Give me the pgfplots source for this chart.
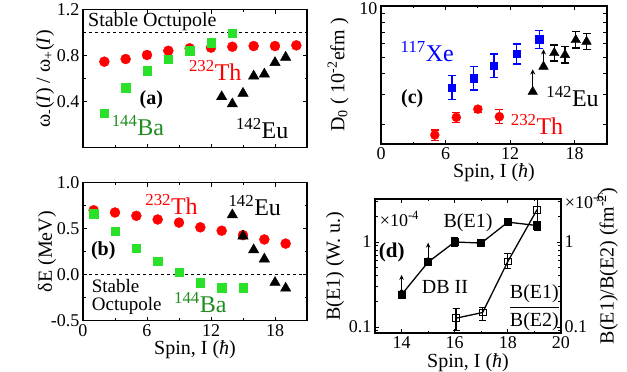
\documentclass[border=0pt]{standalone}
\usepackage{fontspec}
\setmainfont{Liberation Serif}
\usepackage{pgfplots}
\pgfplotsset{compat=1.18}
\usetikzlibrary{arrows.meta}
\definecolor{myred}{RGB}{255,0,0}
\definecolor{mygreen}{RGB}{40,225,40}
\definecolor{txtgreen}{RGB}{30,140,30}
\definecolor{myblue}{RGB}{0,0,255}
\newcommand{\fs}[1]{\fontsize{#1}{#1}\selectfont}
\pgfplotsset{
  every axis/.append style={
    scale only axis,
    axis line style={line width=1.5pt},
    every tick/.style={line width=0.9pt, black},
    major tick length=4pt, minor tick length=2.5pt,
    tick align=inside,
    /pgf/number format/assume math mode=true,
    tick label style={font=\fs{18}},
    label style={font=\fs{20}},
    clip=false,
  },
  thmark/.style={only marks, mark=*, mark size=5pt, color=myred},
  bamark/.style={only marks, mark=square*, mark size=4.2pt, color=mygreen},
  eumark/.style={only marks, mark=triangle*, mark size=6pt, color=black},
}
\begin{document}
\begin{tikzpicture}
\useasboundingbox (0,0) rectangle (627pt,372pt);
% ---------------- (a)
\begin{axis}[at={(83pt,224.3pt)}, anchor=south west, width=224pt, height=138pt,
  xmin=0, xmax=21, ymin=0, ymax=1.2,
  xtick={0,6,12,18}, xticklabels={}, minor x tick num=1,
  ytick={0.4,0.8,1.2}, yticklabels={0.4,0.8,1.2}, minor y tick num=1,
  ylabel={ω\textsubscript{-}(\textit{I}) / ω\textsubscript{+}(\textit{I})},
  ylabel style={yshift=-4pt}]
\addplot[black, dashed, line width=1pt] coordinates {(0,1) (21,1)};
\addplot[thmark] coordinates {(2,0.748) (4,0.771) (6,0.806) (8,0.843) (10,0.864) (12,0.87) (14,0.878) (16,0.884) (18,0.884) (20,0.89)};
\addplot[bamark] coordinates {(2,0.299) (4,0.522) (6,0.67) (8,0.771) (10,0.843) (12,0.913) (14,0.995)};
\addplot[eumark] coordinates {(13,0.443) (14,0.38) (15,0.473) (16,0.623) (17,0.64) (18,0.74) (19,0.786)};
\node[anchor=west, font=\fs{20}] at (axis cs:0.15,1.1) {Stable Octupole};
\node[font=\fs{20}\bfseries] at (axis cs:6.4,0.42) {(a)};
\node[font=\fs{24}, text=myred] at (axis cs:12.4,0.67) {\textsuperscript{232}Th};
\node[font=\fs{24}, text=txtgreen] at (axis cs:5.15,0.19) {\textsuperscript{144}Ba};
\node[font=\fs{24}] at (axis cs:16.8,0.17) {\textsuperscript{142}Eu};
\end{axis}
% ---------------- (b)
\begin{axis}[at={(83pt,51.3pt)}, anchor=south west, width=224pt, height=138pt,
  xmin=0, xmax=21, ymin=-0.5, ymax=1,
  xtick={0,6,12,18}, xticklabels={0,6,12,18}, minor x tick num=1,
  ytick={-0.5,0,0.5,1}, yticklabels={-0.5,0.0,0.5,1.0}, minor y tick num=1,
  xlabel={Spin, I (\textit{ħ})}, ylabel={δE (MeV)},
  xlabel style={yshift=3pt}, ylabel style={yshift=-12pt}]
\addplot[black, dashed, line width=1pt] coordinates {(0,0) (21,0)};
\addplot[thmark] coordinates {(1,0.70) (3,0.676) (5,0.64) (7,0.60) (9,0.566) (11,0.515) (13,0.478) (15,0.43) (17,0.383) (19,0.338)};
\addplot[bamark] coordinates {(1,0.661) (3,0.474) (5,0.29) (7,0.147) (9,0.026) (11,-0.085) (13,-0.14) (15,-0.14)};
\addplot[eumark] coordinates {(14,0.65) (15,0.42) (16,0.27) (17,0.17) (18,-0.085) (19,-0.147)};
\node[font=\fs{24}, text=myred] at (axis cs:8.3,0.76) {\textsuperscript{232}Th};
\node[font=\fs{24}] at (axis cs:16.1,0.75) {\textsuperscript{142}Eu};
\node[font=\fs{20}\bfseries] at (axis cs:1.9,0.265) {(b)};
\node[anchor=west, align=left, font=\fs{19}] at (axis cs:0.5,-0.24) {Stable\\[-1pt]Octupole};
\node[font=\fs{24}, text=txtgreen] at (axis cs:11,-0.305) {\textsuperscript{144}Ba};
\end{axis}
% ---------------- (c)
\begin{axis}[at={(381pt,228pt)}, anchor=south west, width=226pt, height=138pt,
  xmin=0, xmax=21, ymode=log, ymin=1.54, ymax=10,
  xtick={0,6,12,18}, xticklabels={0,6,12,18}, minor x tick num=1,
  ytick={2,3,4,5,6,7,8,9,10}, yticklabels={,,,,,,,,10},
  yticklabel style={yshift=-3pt},
  xlabel={Spin, I (\textit{ħ})}, ylabel={D\textsubscript{0} ( 10\textsuperscript{-2}efm )},
  xlabel style={yshift=3pt}, ylabel style={yshift=4pt}]
\addplot[only marks, mark=*, mark size=4.5pt, color=myred,
  error bars/.cd, y dir=both, y explicit, error mark=-, error bar style={line width=1.2pt},
  error mark options={rotate=90, mark size=4pt, line width=1.2pt}]
  table[x=x, y=y, y error plus=ep, y error minus=em] {
x y ep em
5 1.74 0.12 0.12
7 2.21 0.16 0.15
9 2.47 0.10 0.10
11 2.23 0.22 0.20
};
\addplot[only marks, mark=square*, mark size=3.6pt, color=myblue,
  error bars/.cd, y dir=both, y explicit, error mark=-, error bar style={line width=1.2pt},
  error mark options={rotate=90, mark size=4pt, line width=1.2pt}]
  table[x=x, y=y, y error plus=ep, y error minus=em] {
x y ep em
6.6 3.32 0.58 0.50
8.6 3.76 0.66 0.56
10.5 4.44 0.78 0.66
12.6 5.22 0.76 0.66
14.7 6.37 0.83 0.73
};
\addplot[only marks, mark=triangle*, mark size=5.5pt, color=black,
  error bars/.cd, y dir=plus, y explicit, error mark=none,
  error bar style={line width=1.2pt, -{Stealth[length=5pt,width=5pt]}}]
  table[x=x, y=y, y error plus=ep] {
x y ep
14.1 3.13 1.1
15.1 4.40 1.15
};
\addplot[only marks, mark=triangle*, mark size=5.5pt, color=black,
  error bars/.cd, y dir=both, y explicit, error mark=-, error bar style={line width=1.2pt},
  error mark options={rotate=90, mark size=4pt, line width=1.2pt}]
  table[x=x, y=y, y error plus=ep, y error minus=em] {
x y ep em
16.1 5.29 0.61 0.55
17.1 5.15 0.60 0.53
18.1 6.31 0.73 0.65
19.1 6.17 0.71 0.64
};
\node[font=\fs{20}\bfseries] at (axis cs:2.9,2.86) {(c)};
\node[font=\fs{24}, text=myblue] at (axis cs:4.3,5.38) {\textsuperscript{117}Xe};
\node[font=\fs{24}] at (axis cs:17.8,2.92) {\textsuperscript{142}Eu};
\node[font=\fs{24}, text=myred] at (axis cs:14.5,2.0) {\textsuperscript{232}Th};
\end{axis}
% ---------------- (d)
\begin{axis}[at={(375pt,39pt)}, anchor=south west, width=186pt, height=134pt,
  xmin=13, xmax=20, ymode=log, ymin=0.085, ymax=3.2,
  xtick={14,16,18,20}, xticklabels={14,16,18,20}, minor x tick num=1,
  ytick={0.1,1}, yticklabels={0.1,1},
  minor ytick={0.09,0.2,0.3,0.4,0.5,0.6,0.7,0.8,0.9,2,3},
  xlabel={Spin, I (\textit{ħ})}, ylabel={B(E1) (W. u.)},
  xlabel style={yshift=2pt}, ylabel style={yshift=-2pt}]
\addplot[black, line width=1.3pt, mark=square*, mark size=3.4pt,
  error bars/.cd, y dir=both, y explicit, error mark=-, error bar style={line width=1.1pt},
  error mark options={rotate=90, mark size=3.5pt, line width=1.1pt}]
  table[x=x, y=y, y error plus=ep, y error minus=em] {
x y ep em
14 0.24 0 0
15 0.58 0 0
16 1.0 0.12 0.12
17 0.97 0.08 0.08
18 1.71 0.15 0.15
19.1 1.56 0.2 0.2
};
\addplot[only marks, mark=none, draw=none,
  error bars/.cd, y dir=plus, y explicit, error mark=none,
  error bar style={black, line width=1.2pt, -{Stealth[length=5pt,width=4.5pt]}}]
  table[x=x, y=y, y error plus=ep] {
x y ep
14 0.26 0.15
15 0.62 0.36
};
\addplot[black, line width=1.3pt, mark=square, mark size=3.4pt, mark options={fill=white, line width=1pt},
  error bars/.cd, y dir=both, y explicit, error mark=-, error bar style={line width=1.1pt},
  error mark options={rotate=90, mark size=3.5pt, line width=1.1pt}]
  table[x=x, y=y, y error plus=ep, y error minus=em] {
x y ep em
16.05 0.127 0.04 0.035
17.05 0.148 0.022 0.03
18 0.59 0.14 0.10
19.1 2.4 0.76 0.66
};
\node[anchor=west, font=\fs{18}] at (axis cs:13.05,1.86) {×10\textsuperscript{-4}};
\node[font=\fs{20}] at (axis cs:16.5,1.67) {B(E1)};
\node[font=\fs{21}\bfseries] at (axis cs:13.63,0.76) {(d)};
\node[font=\fs{20}] at (axis cs:15.63,0.292) {DB II};
\node[font=\fs{20}] at (axis cs:19.0,0.169) {$\displaystyle\frac{\mbox{B(E1)}}{\mbox{B(E2)}}$};
\end{axis}
\begin{axis}[at={(375pt,39pt)}, anchor=south west, width=186pt, height=134pt,
  xmin=13, xmax=20, ymode=log, ymin=0.085, ymax=3.2,
  hide x axis, axis y line*=right, axis line style={draw=none},
  ytick={0.1,1}, yticklabels={0.1,1}, major tick length=0pt, minor tick length=0pt,
  ylabel={B(E1)/B(E2) (fm\textsuperscript{-2})}, ylabel style={yshift=-3pt}]
\addplot[draw=none] coordinates {(14,1)};
\node[anchor=south west, font=\fs{18}, inner sep=0pt] at (rel axis cs:1.02,0.93) {×10\textsuperscript{-6}};
\end{axis}
\end{tikzpicture}
\end{document}
